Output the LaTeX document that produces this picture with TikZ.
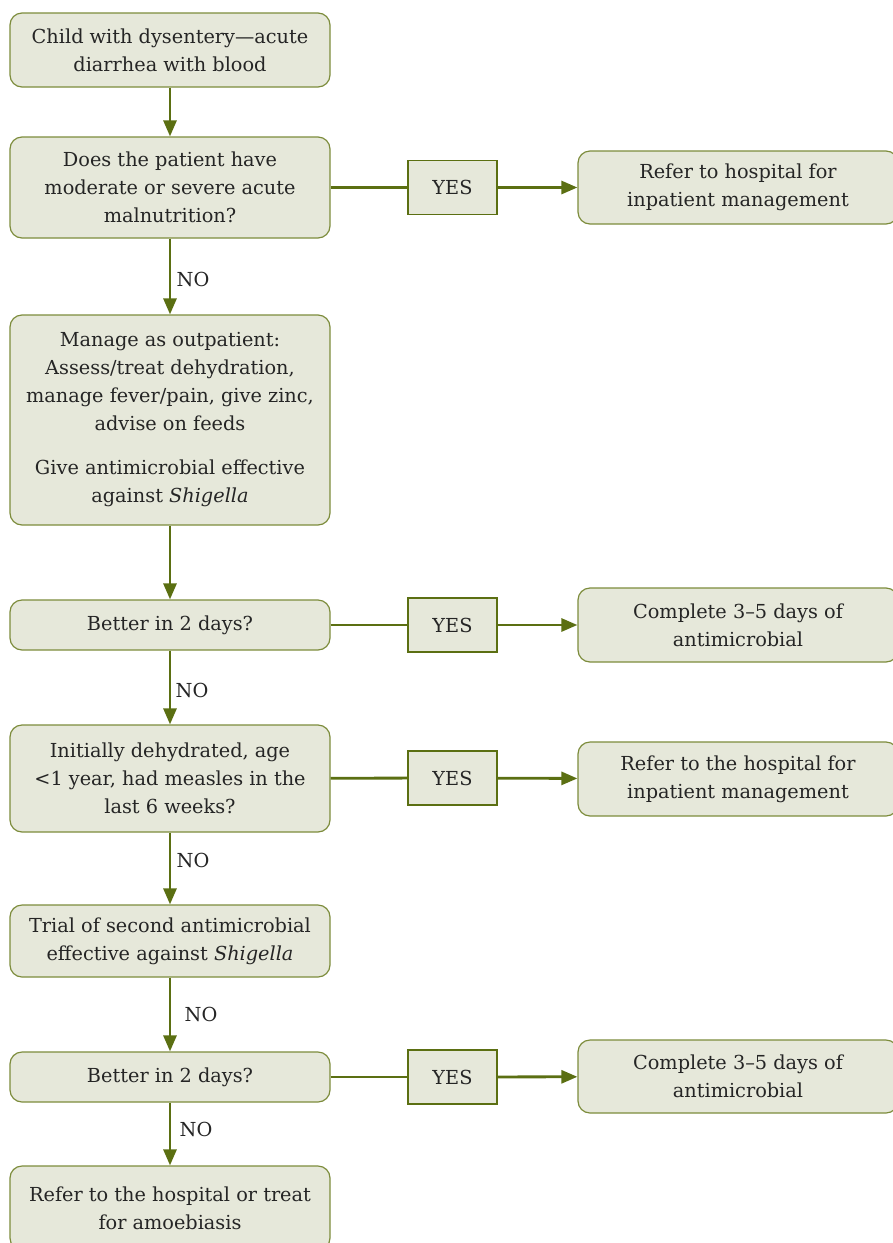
\documentclass[tikz,border=0pt]{standalone}
\usepackage{fontspec}
\setmainfont{DejaVu Serif}
\usepackage{xcolor}
\usetikzlibrary{arrows.meta}
\definecolor{box_fill}{HTML}{E6E8DA}
\definecolor{box_line}{HTML}{7D8C3C}
\definecolor{arrow_green}{HTML}{5B6F12}
\definecolor{text_dark}{HTML}{252525}

\begin{document}
\begin{tikzpicture}[x=1pt, y=-1pt,
    flowbox/.style={draw=box_line, fill=box_fill, line width=1.2pt, rounded corners=12pt,
      minimum width=320pt, inner sep=0pt, align=center, text=text_dark,
      font=\fontsize{19.3}{28}\selectfont},
    yesbox/.style={draw=arrow_green, fill=box_fill, line width=1.5pt, minimum width=89pt,
      minimum height=54pt, inner sep=0pt, text=text_dark, font=\fontsize{19.3}{28}\selectfont},
    flow/.style={arrow_green, line width=2.8pt, -{Triangle[length=16pt, width=13pt]}},
    link/.style={arrow_green, line width=2.8pt},
    nolabel/.style={right, text=text_dark, font=\fontsize{19.3}{28}\selectfont}]
      \useasboundingbox (0,0) rectangle (893,1243);
      \clip (0,0) rectangle (893,1243);

      % main column
      \node[flowbox, minimum height=74pt] (start) at (170,50) {Child with dysentery---acute\\diarrhea with blood};
      \node[flowbox, minimum height=101pt] (malnut) at (170,187.5) {Does the patient have\\moderate or severe acute\\malnutrition?};
      \node[flowbox, minimum height=210pt] (outpat) at (170,420) {Manage as outpatient:\\Assess/treat dehydration,\\manage fever/pain, give zinc,\\advise on feeds\\[16pt]Give antimicrobial effective\\against \textit{Shigella}};
      \node[flowbox, minimum height=50pt] (better1) at (170,625) {Better in 2 days?};
      \node[flowbox, minimum height=107pt] (risk) at (170,778.5) {Initially dehydrated, age\\<1 year, had measles in the\\last 6 weeks?};
      \node[flowbox, minimum height=72pt] (second) at (170,941) {Trial of second antimicrobial\\effective against \textit{Shigella}};
      \node[flowbox, minimum height=50pt] (better2) at (170,1077) {Better in 2 days?};
      \node[flowbox, minimum height=84pt] (amoeba) at (170,1208) {Refer to the hospital or treat\\for amoebiasis};

      % yes branches
      \node[yesbox] (yes1) at (452.5,187.5) {YES};
      \node[yesbox] (yes2) at (452.5,625) {YES};
      \node[yesbox] (yes3) at (452.5,778) {YES};
      \node[yesbox] (yes4) at (452.5,1077) {YES};

      \node[flowbox, minimum height=73pt] (hosp1) at (738,187.5) {Refer to hospital for\\inpatient management};
      \node[flowbox, minimum height=74pt] (compl1) at (738,625) {Complete 3--5 days of\\antimicrobial};
      \node[flowbox, minimum height=74pt] (hosp2) at (738,779) {Refer to the hospital for\\inpatient management};
      \node[flowbox, minimum height=73pt] (compl2) at (738,1076.5) {Complete 3--5 days of\\antimicrobial};

      \draw[flow] (start) -- (malnut);
      \draw[flow] (malnut) -- (outpat) node[midway, nolabel, xshift=2pt, yshift=-3pt] {NO};
      \draw[flow] (outpat) -- (better1);
      \draw[flow] (better1) -- (risk) node[midway, nolabel, xshift=1pt, yshift=-3pt] {NO};
      \draw[flow] (risk) -- (second) node[midway, nolabel, xshift=2pt, yshift=8pt] {NO};
      \draw[flow] (second) -- (better2) node[midway, nolabel, xshift=10pt] {NO};
      \draw[flow] (better2) -- (amoeba) node[midway, nolabel, xshift=5pt, yshift=5pt] {NO};

      \draw[link] (malnut) -- (yes1);
      \draw[flow] (yes1) -- (hosp1);
      \draw[link] (better1) -- (yes2);
      \draw[flow] (yes2) -- (compl1);
      \draw[link] (risk) -- (yes3);
      \draw[flow] (yes3) -- (hosp2);
      \draw[link] (better2) -- (yes4);
      \draw[flow] (yes4) -- (compl2);

    \end{tikzpicture}
\end{document}
